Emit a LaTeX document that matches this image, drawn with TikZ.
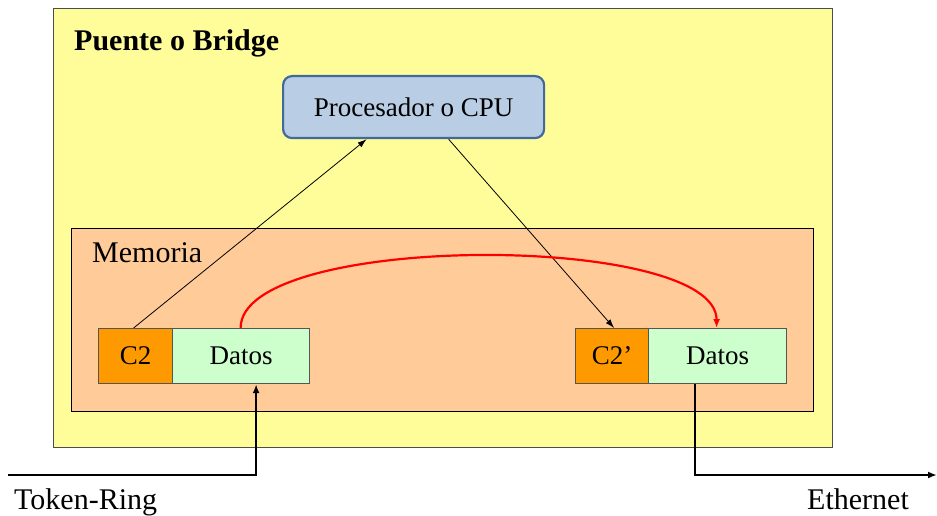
\documentclass[tikz,border=0pt]{standalone}
\usepackage{fontspec}
\setmainfont{Liberation Serif}
\usetikzlibrary{arrows.meta}
\definecolor{outerfill}{HTML}{FFFD99}
\definecolor{memfill}{HTML}{FFCC99}
\definecolor{cpufill}{HTML}{B9CDE5}
\definecolor{cpuline}{HTML}{41699B}
\definecolor{cfill}{HTML}{FF9900}
\definecolor{dfill}{HTML}{CCFFCC}
\definecolor{cellline}{HTML}{555555}
\tikzset{
  cell/.style={draw=cellline, line width=1.2pt, minimum height=55pt, inner sep=0pt, font=\fontsize{27}{30}\selectfont, anchor=north west},
  thinarrow/.style={draw=black, line width=0.8pt, -{Latex[length=9pt,width=6pt]}},
  netarrow/.style={draw=black, line width=1.8pt, -{Latex[length=9pt,width=7pt]}},
  redarrow/.style={draw=red, line width=2.2pt, -{Latex[length=9pt,width=7pt]}},
  lbl/.style={font=\fontsize{30}{34}\selectfont, inner sep=0pt, anchor=base west}
}
\begin{document}
\begin{tikzpicture}[x=1pt,y=-1pt]
\useasboundingbox (0,0) rectangle (937,516);
% outer bridge box
\node[draw=black!70, line width=1pt, fill=outerfill, minimum width=779pt, minimum height=439pt, anchor=north west, inner sep=0pt] (bridge) at (53,8) {};
\node[lbl, font=\bfseries\fontsize{30}{34}\selectfont] (title) at (74,51) {Puente o Bridge};
% CPU
\node[draw=cpuline, line width=2.2pt, fill=cpufill, rounded corners=9pt, minimum width=261pt, minimum height=62pt, anchor=north west, inner sep=0pt, font=\fontsize{27}{30}\selectfont] (cpu) at (282,75) {Procesador o CPU};
% Memory
\node[draw=black, line width=1pt, fill=memfill, minimum width=742pt, minimum height=183pt, anchor=north west, inner sep=0pt] (mem) at (71,228) {};
\node[lbl] (memlbl) at (92,262) {Memoria};
% cells
\node[cell, fill=cfill, minimum width=74pt] (c2l) at (98,328) {C2};
\node[cell, fill=dfill, minimum width=137pt] (dl) at (172,328) {Datos};
\node[cell, fill=cfill, minimum width=73pt] (c2r) at (575,328) {C2’};
\node[cell, fill=dfill, minimum width=138pt] (dr) at (648,328) {Datos};
% labels
\node[lbl] (tr) at (14,509) {Token-Ring};
\node[lbl] (eth) at (807,509) {Ethernet};
\coordinate (trin) at (8,475);
\coordinate (ethout) at (937,475);
% connectors
\draw[thinarrow] ([xshift=-2pt]c2l.north) -- ([xshift=-47pt]cpu.south);
\draw[thinarrow] ([xshift=35pt]cpu.south) -- ([xshift=2pt]c2r.north);
\draw[redarrow] ([xshift=-0.5pt]dl.north) .. controls ([xshift=-0.5pt,yshift=96pt]dl.north) and ([xshift=-1pt,yshift=96pt]dr.north) .. ([xshift=-1pt]dr.north);
\draw[netarrow] (trin) -| ([xshift=15pt]dl.south);
\draw[netarrow] ([xshift=-23pt]dr.south) |- (ethout);
\end{tikzpicture}
\end{document}
